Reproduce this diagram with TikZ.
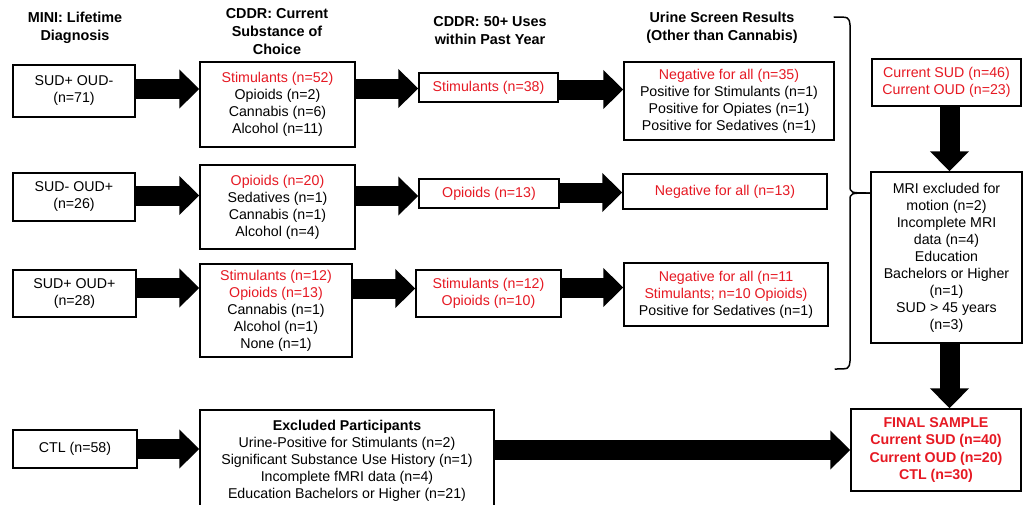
\documentclass[tikz,border=0pt]{standalone}
\usepackage{fontspec}
\setmainfont{Liberation Sans}
\usetikzlibrary{arrows.meta,calc}
\definecolor{tred}{RGB}{230,25,35}
\newcommand\rd[1]{\textcolor{tred}{#1}}
\begin{document}
\begin{tikzpicture}[x=1pt,y=-1pt,
  box/.style={draw=black, line width=1.5pt, fill=white, inner sep=0pt, align=center,
    font={\fontsize{14.2}{17}\selectfont}},
  hdr/.style={align=center, inner sep=0pt, font={\fontsize{14.4}{18}\selectfont\bfseries}},
  barrow/.style={line width=20pt, -{Triangle[width=38pt,length=20pt]}},
  brace/.style={line width=1.5pt, line cap=round}]
\useasboundingbox (0,0) rectangle (1023,504);

% headers
\node[hdr] (h1) at (75,28) {MINI: Lifetime\\Diagnosis};
\node[hdr] (h2) at (277,32) {CDDR: Current\\Substance of\\Choice};
\node[hdr] (h3) at (490,31) {CDDR: 50+ Uses\\within Past Year};
\node[hdr] (h4) at (722,28) {Urine Screen Results\\(Other than Cannabis)};

% row 1
\node[box, minimum width=122, minimum height=52] (a1) at (74,91) {SUD+ OUD-\\(n=71)};
\node[box, minimum width=155, minimum height=85] (b1) at (277.5,104.5)
  {\rd{Stimulants (n=52)}\\Opioids (n=2)\\Cannabis (n=6)\\Alcohol (n=11)};
\node[box, minimum width=139, minimum height=29] (c1) at (488.5,87.5) {\rd{Stimulants (n=38)}};
\node[box, minimum width=210, minimum height=78] (d1) at (729,101)
  {\rd{Negative for all (n=35)}\\Positive for Stimulants (n=1)\\Positive for Opiates (n=1)\\Positive for Sedatives (n=1)};

% row 2
\node[box, minimum width=122, minimum height=48] (a2) at (74,197) {SUD- OUD+\\(n=26)};
\node[box, minimum width=155, minimum height=84] (b2) at (277.5,207)
  {\rd{Opioids (n=20)}\\Sedatives (n=1)\\Cannabis (n=1)\\Alcohol (n=4)};
\node[box, minimum width=140, minimum height=29] (c2) at (489,193.5) {\rd{Opioids (n=13)}};
\node[box, minimum width=204, minimum height=35] (d2) at (725,191.5) {\rd{Negative for all (n=13)}};

% row 3
\node[box, minimum width=123, minimum height=47] (a3) at (74.5,293.5) {SUD+ OUD+\\(n=28)};
\node[box, minimum width=152, minimum height=93] (b3) at (276,310.5)
  {\rd{Stimulants (n=12)}\\\rd{Opioids (n=13)}\\Cannabis (n=1)\\Alcohol (n=1)\\None (n=1)};
\node[box, minimum width=145, minimum height=47] (c3) at (488.5,293.5)
  {\rd{Stimulants (n=12)}\\\rd{Opioids (n=10)}};
\node[box, minimum width=204, minimum height=63] (d3) at (726,294.5)
  {\rd{Negative for all (n=11}\\\rd{Stimulants; n=10 Opioids)}\\Positive for Sedatives (n=1)};

% row 4
\node[box, minimum width=124, minimum height=38] (ctl) at (75,449) {CTL (n=58)};
\node[box, minimum width=294, minimum height=99, anchor=north, text depth=0pt] (ex) at (347,409)
  {\textbf{Excluded Participants}\\Urine-Positive for Stimulants (n=2)\\Significant Substance Use History (n=1)\\Incomplete fMRI data (n=4)\\Education Bachelors or Higher (n=21)};

% right column
\node[box, minimum width=149, minimum height=47] (sud) at (946.5,82.5)
  {\rd{Current SUD (n=46)}\\\rd{Current OUD (n=23)}};
\node[box, minimum width=151, minimum height=171] (mri) at (946.5,257.5)
  {MRI excluded for\\motion (n=2)\\Incomplete MRI\\data (n=4)\\Education\\Bachelors or Higher\\(n=1)\\SUD > 45 years\\(n=3)};
\node[box, minimum width=170, minimum height=82, text=tred,
  font={\fontsize{14.2}{17.5}\selectfont\bfseries}] (fin) at (936,450)
  {FINAL SAMPLE\\Current SUD (n=40)\\Current OUD (n=20)\\CTL (n=30)};

% arrows
\newcommand\barrow[3]{%
  \path ([yshift=#3]#1.east) coordinate (s);
  \draw[barrow] (s) -- (s -| #2.west);}
\barrow{a1}{b1}{2pt}
\path ([yshift=-1pt]c1.west) coordinate (t); \draw[barrow] (t -| b1.east) -- (t);
\path ([yshift=-2pt]c1.east) coordinate (s); \draw[barrow] (s) -- (s -| d1.west);
\barrow{a2}{b2}{1.5pt}
\path ([yshift=-2.5pt]c2.west) coordinate (t); \draw[barrow] (t -| b2.east) -- (t);
\barrow{c2}{d2}{1pt}
\barrow{a3}{b3}{5.5pt}
\path ([yshift=5pt]c3.west) coordinate (t); \draw[barrow] (t -| b3.east) -- (t);
\barrow{c3}{d3}{6pt}
\barrow{ctl}{ex}{0pt}
\path (ex.east |- fin.west) coordinate (s); \draw[barrow] (s) -- (fin.west);
\path ([xshift=3pt]sud.south) coordinate (s); \draw[barrow] (s) -- (s |- mri.north);
\path ([xshift=3pt]mri.south) coordinate (s); \draw[barrow] (s) -- (s |- fin.north);

% brace
\coordinate (btip) at (mri.west |- 0,193);
\draw[brace] (834,17) .. controls (849,17) .. (850,25) -- (850,185)
  .. controls (850,193) .. (btip);
\draw[brace] (btip) .. controls (850,193) .. (850,201) -- (850,361)
  .. controls (849,369) .. (835,369);
\end{tikzpicture}
\end{document}
